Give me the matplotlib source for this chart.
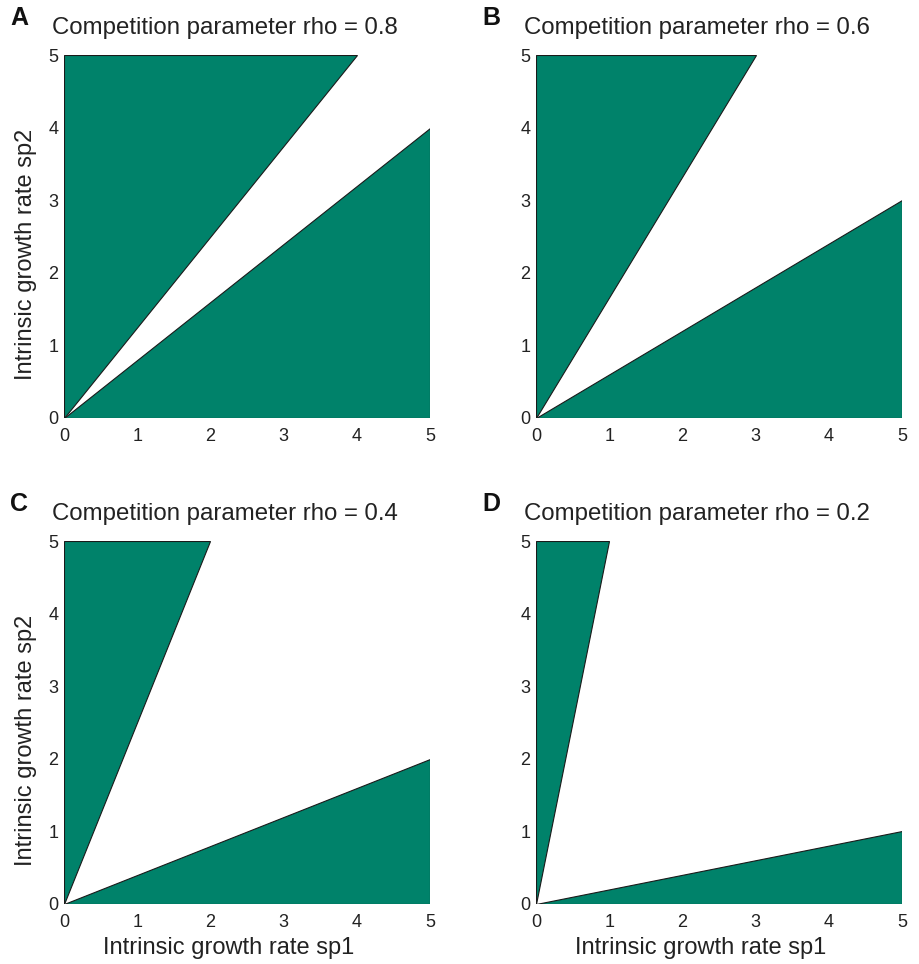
import matplotlib.pyplot as plt
from matplotlib.patches import Polygon

plt.rcParams['font.family'] = ['Liberation Sans', 'DejaVu Sans']

# competition parameter for each panel
panels = ['A', 'B', 'C', 'D']
rhos = [0.8, 0.6, 0.4, 0.2]
rmax = 5
ticks = [0, 1, 2, 3, 4, 5]
green = '#00826A'

fig = plt.figure(figsize=(9.19, 9.64), dpi=100)

lefts = [64 / 919, 536 / 919]
bottoms = [1 - 418 / 964, 1 - 904 / 964]
w = 366 / 919
h = 363 / 964

for i, (lab, rho) in enumerate(zip(panels, rhos)):
    col = i % 2
    row = i // 2
    ax = fig.add_axes([lefts[col], bottoms[row], w, h])
    # sp2 wins region (above line r2 = r1 / rho)
    upper = Polygon([(0, 0), (0, rmax), (rmax * rho, rmax)], closed=True,
                    facecolor=green, edgecolor='#1a1a1a', linewidth=0.8)
    # sp1 wins region (below line r2 = rho * r1)
    lower = Polygon([(0, 0), (rmax, 0), (rmax, rmax * rho)], closed=True,
                    facecolor=green, edgecolor='#1a1a1a', linewidth=0.8)
    ax.add_patch(upper)
    ax.add_patch(lower)
    ax.set_xlim(0, rmax)
    ax.set_ylim(0, rmax)
    ax.set_xticks(ticks)
    ax.set_yticks(ticks)
    ax.tick_params(length=0, labelsize=13, colors='#222222')
    ax.tick_params(axis='x', pad=7)
    ax.tick_params(axis='y', pad=4)
    for s in ax.spines.values():
        s.set_visible(False)
    if col == 0:
        ax.set_ylabel('Intrinsic growth rate sp2', fontsize=17, color='#222222')
        ax.yaxis.set_label_coords(-27 / 366, 0.45)
    if row == 1:
        ax.set_xlabel('Intrinsic growth rate sp1', fontsize=17, color='#222222')
        ax.xaxis.set_label_coords(0.45, -33 / 363)
    x0 = lefts[col]
    ytop = bottoms[row] + h
    fig.text(x0 - 54 / 919, ytop + 37 / 964, lab, fontsize=18, fontweight='bold',
             va='center', ha='left', color='#111111')
    fig.text(x0 - 12 / 919, ytop + 27 / 964, 'Competition parameter rho = ' + str(rho),
             fontsize=17.3, va='center', ha='left', color='#222222')

fig.savefig('out.png', dpi=100)
